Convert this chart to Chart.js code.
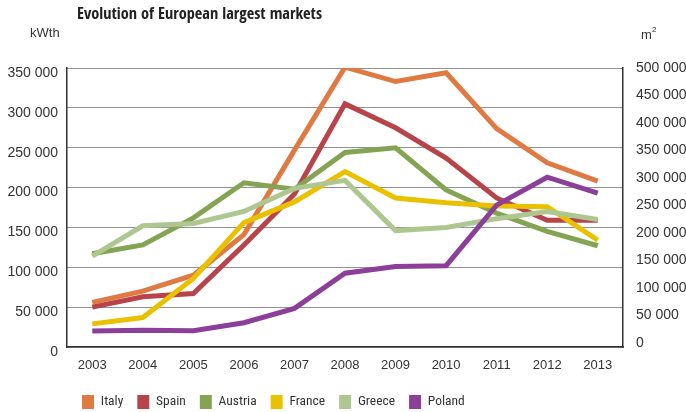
<!DOCTYPE html>
<html>
<head>
<meta charset="utf-8">
<script src="https://cdn.jsdelivr.net/npm/chart.js@4.4.0/dist/chart.umd.min.js"></script>
<style>
    html, body { margin: 0; padding: 0; background: #fff; }
    #wrap { position: relative; width: 686px; height: 412px; }
</style>
</head>
<body>
<div id="wrap"><canvas id="myChart" width="686" height="412"></canvas></div>
<script>
// data (kWth)
var anos = ['2003', '2004', '2005', '2006', '2007', '2008', '2009', '2010', '2011', '2012', '2013'];
var italy   = [56000, 70000, 90000, 141000, 247000, 351000, 333000, 344000, 274000, 231000, 208000];
var spain   = [50000, 63000, 67000, 128000, 192000, 305000, 275000, 237000, 187000, 159000, 159000];
var austria = [117000, 128000, 162000, 206000, 198000, 244000, 250000, 197000, 168000, 145000, 127000];
var france  = [29000, 37000, 86000, 156000, 182000, 220000, 187000, 181000, 177000, 176000, 134000];
var greece  = [114000, 152000, 155000, 170000, 199000, 209000, 146000, 150000, 161000, 170000, 160000];
var poland  = [20000, 21000, 20500, 30500, 48500, 92500, 101000, 102000, 178000, 213000, 193000];

var paises = ['Italy', 'Spain', 'Austria', 'France', 'Greece', 'Poland'];
var cores = ['#E07A43', '#B8434B', '#84A453', '#EAC100', '#AEC791', '#8C3F98'];
var leftTicks = [0, 50000, 100000, 150000, 200000, 250000, 300000, 350000];
var rightTicks = [0, 50000, 100000, 150000, 200000, 250000, 300000, 350000, 400000, 450000, 500000];

document.addEventListener("DOMContentLoaded", function () {

    function fmt(v) {
        return String(v).replace(/\B(?=(\d{3})+(?!\d))/g, ' ');
    }

    var series = [italy, spain, austria, france, greece, poland];
    var datasets = [];
    for (var i = 0; i < series.length; i++) {
        datasets.push({
            label: paises[i],
            data: series[i],
            borderColor: cores[i],
            backgroundColor: cores[i],
            borderWidth: 5,
            pointRadius: 0,
            tension: 0,
            yAxisID: 'y',
            // later series drawn on top, like the original
            order: series.length - i
        });
    }

    var textos = {
        id: 'textos',
        afterLayout: function (chart) {
            // legend sits under the axis, starting under the plot
            chart.legend.left = 68;
            chart.legend.top = 381;
        },
        afterDraw: function (chart) {
            var ctx = chart.ctx;
            ctx.save();
            ctx.fillStyle = '#222';
            ctx.textBaseline = 'middle';
            ctx.font = 'bold 16px "Open Sans Condensed", "Roboto Condensed", sans-serif';
            var t = 'Evolution of European largest markets';
            var w = ctx.measureText(t).width;
            ctx.translate(77, 15);
            ctx.scale(245 / w, 1);
            ctx.fillText(t, 0, 0);
            ctx.restore();

            ctx.save();
            ctx.fillStyle = '#333';
            ctx.textBaseline = 'middle';
            ctx.font = '13px "Liberation Sans", Arial, sans-serif';
            ctx.fillText('kWth', 30, 33);
            ctx.fillText('m', 641, 35);
            ctx.font = '8px "Liberation Sans", Arial, sans-serif';
            ctx.fillText('2', 652, 30);
            ctx.restore();
        }
    };

    var ctx = document.getElementById('myChart').getContext('2d');
    var myChart = new Chart(ctx, {
        type: 'line',
        data: {
            labels: anos,
            datasets: datasets
        },
        plugins: [textos],
        options: {
            responsive: false,
            animation: false,
            layout: {
                padding: { left: 0, right: 0, top: 68, bottom: 0 }
            },
            plugins: {
                tooltip: { enabled: false },
                legend: {
                    position: 'bottom',
                    align: 'start',
                    labels: {
                        boxWidth: 12,
                        boxHeight: 14,
                        padding: 14,
                        color: '#333',
                        font: { family: '"Roboto Condensed", "DejaVu Sans Condensed", sans-serif', size: 13.5 },
                        generateLabels: function (chart) {
                            var items = Chart.defaults.plugins.legend.labels.generateLabels(chart);
                            items.forEach(function (it) {
                                it.lineWidth = 0;
                                it.strokeStyle = 'rgba(0,0,0,0)';
                            });
                            return items;
                        },
                        sort: function (a, b) {
                            return a.datasetIndex - b.datasetIndex;
                        }
                    }
                }
            },
            scales: {
                x: {
                    offset: true,
                    grid: { display: false, drawTicks: false },
                    border: { display: true, color: '#333', width: 1.5 },
                    ticks: {
                        color: '#333',
                        padding: 11,
                        font: { family: '"Liberation Sans", Arial, sans-serif', size: 13 }
                    },
                    afterFit: function (scale) {
                        var lh = scale.chart.legend ? scale.chart.legend.height : 0;
                        scale.height = 412 - lh - 347;
                    }
                },
                y: {
                    position: 'left',
                    min: 0,
                    max: 350000,
                    grid: { color: '#222', lineWidth: 1, drawTicks: false },
                    border: { display: true, color: '#333', width: 1.5, dash: [1, 1] },
                    afterBuildTicks: function (scale) {
                        scale.ticks = leftTicks.map(function (v) { return { value: v }; });
                    },
                    ticks: {
                        color: '#333',
                        padding: 9,
                        labelOffset: 5,
                        font: { family: '"Liberation Sans", Arial, sans-serif', size: 14 },
                        callback: function (v) { return fmt(v); }
                    },
                    afterFit: function (scale) { scale.width = 67; }
                },
                y2: {
                    position: 'right',
                    min: -7300,
                    max: 500000,
                    grid: { display: true, drawOnChartArea: false, drawTicks: false },
                    border: { display: true, color: '#333', width: 1.5 },
                    afterBuildTicks: function (scale) {
                        scale.ticks = rightTicks.map(function (v) { return { value: v }; });
                    },
                    ticks: {
                        color: '#333',
                        padding: 13,
                        font: { family: '"Liberation Sans", Arial, sans-serif', size: 14 },
                        callback: function (v) { return fmt(v); }
                    },
                    afterFit: function (scale) { scale.width = 63; }
                }
            }
        }
    });
});
</script>
</body>
</html>
